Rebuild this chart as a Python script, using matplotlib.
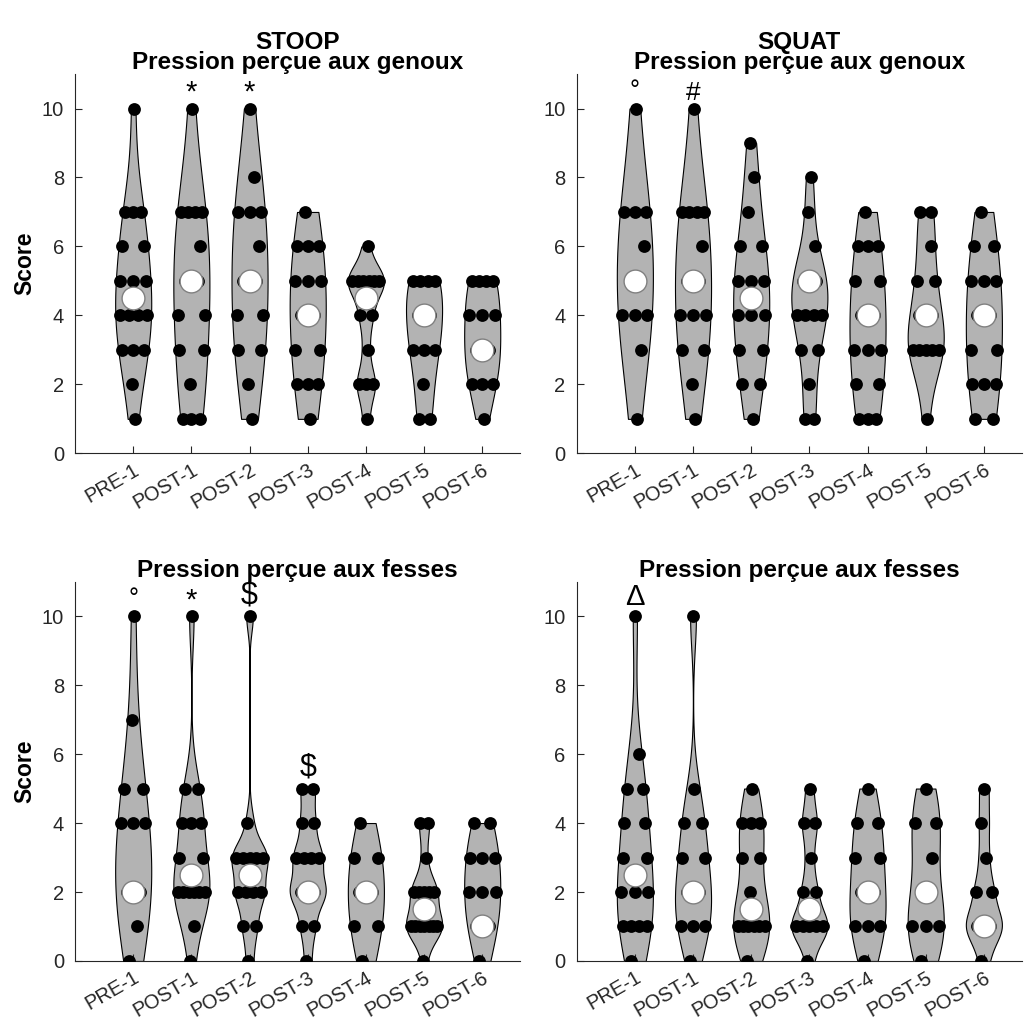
import numpy as np
import matplotlib
matplotlib.use('Agg')
import matplotlib.pyplot as plt
from matplotlib.mlab import GaussianKDE

plt.rcParams['font.family'] = ['Liberation Sans', 'DejaVu Sans']

labels = ['PRE-1', 'POST-1', 'POST-2', 'POST-3', 'POST-4', 'POST-5', 'POST-6']

# STOOP - genoux
stoop_knees = [
    [10, 7, 7, 7, 6, 6, 5, 5, 5, 4, 4, 4, 4, 3, 3, 3, 2, 1],
    [10, 7, 7, 7, 7, 6, 5, 5, 5, 4, 4, 3, 3, 2, 1, 1, 1],
    [10, 8, 7, 7, 7, 6, 5, 5, 4, 4, 3, 3, 2, 1],
    [7, 6, 6, 6, 5, 5, 5, 4, 4, 3, 3, 2, 2, 2, 1],
    [6, 5, 5, 5, 5, 5, 5, 4, 4, 3, 2, 2, 2, 1],
    [5, 5, 5, 5, 4, 4, 4, 3, 3, 3, 2, 1, 1],
    [5, 5, 5, 5, 4, 4, 4, 3, 3, 3, 3, 2, 2, 2, 1],
]
stoop_knees_med = [4.5, 5, 5, 4, 4.5, 4, 3]

# SQUAT - genoux
squat_knees = [
    [10, 7, 7, 7, 6, 5, 4, 4, 4, 3, 1],
    [10, 7, 7, 7, 7, 6, 5, 5, 4, 4, 4, 3, 3, 2, 1],
    [9, 8, 7, 6, 6, 5, 5, 5, 4, 4, 4, 3, 3, 2, 2, 1],
    [8, 7, 6, 5, 5, 5, 5, 5, 4, 4, 4, 4, 3, 3, 2, 1, 1],
    [7, 6, 6, 6, 5, 5, 4, 4, 4, 3, 3, 3, 2, 2, 1, 1, 1],
    [7, 7, 6, 5, 5, 4, 4, 3, 3, 3, 3, 3, 1],
    [7, 6, 6, 5, 5, 5, 4, 4, 3, 3, 2, 2, 2, 1, 1],
]
squat_knees_med = [5, 5, 4.5, 5, 4, 4, 4]

# STOOP - fesses
stoop_butt = [
    [10, 7, 5, 5, 4, 4, 4, 2, 2, 2, 2, 2, 2, 1, 0],
    [10, 5, 5, 4, 4, 4, 3, 3, 2, 2, 2, 2, 2, 2, 1, 0],
    [10, 4, 3, 3, 3, 3, 3, 2, 2, 2, 2, 1, 1, 0],
    [5, 5, 4, 4, 3, 3, 3, 3, 2, 2, 2, 2, 2, 1, 1, 0],
    [4, 3, 3, 2, 2, 1, 1, 0],
    [4, 4, 3, 2, 2, 2, 2, 2, 1, 1, 1, 1, 1, 1, 1, 0],
    [4, 4, 3, 3, 3, 2, 2, 2, 1, 1, 1, 0],
]
stoop_butt_med = [2, 2.5, 2.5, 2, 2, 1.5, 1]

# SQUAT - fesses
squat_butt = [
    [10, 6, 5, 5, 4, 4, 3, 3, 2, 2, 2, 1, 1, 1, 1, 0],
    [10, 5, 4, 4, 3, 3, 2, 2, 2, 1, 1, 1, 0],
    [5, 4, 4, 4, 3, 3, 2, 1, 1, 1, 1, 1, 1, 0],
    [5, 4, 4, 3, 2, 2, 1, 1, 1, 1, 1, 0],
    [5, 4, 4, 3, 3, 2, 2, 1, 1, 1, 0],
    [5, 4, 4, 3, 2, 1, 1, 1, 0],
    [5, 4, 3, 2, 2, 1, 1, 1, 1, 0],
]
squat_butt_med = [2.5, 2, 1.5, 1.5, 2, 2, 1]

# significance marks: (group index, symbol, y)
stoop_knees_marks = [(1, '*', 10.45), (2, '*', 10.45)]
squat_knees_marks = [(0, '°', 10.5), (1, '#', 10.45)]
stoop_butt_marks = [(0, '°', 10.5), (1, '*', 10.45), (2, '$', 10.6), (3, '$', 5.6)]
squat_butt_marks = [(0, 'Δ', 10.55)]


def silverman(kde):
    # ksdensity-like bandwidth (robust sigma)
    x = kde.dataset.ravel()
    sig = np.median(np.abs(x - np.median(x))) / 0.6745
    if sig <= 0:
        sig = x.max() - x.min()
    h = sig * (4 / (3 * len(x))) ** 0.2
    return h / np.std(x, ddof=1)


def draw_panel(ax, groups, medians, marks, title, ylabel):
    pos = np.arange(1, len(groups) + 1)
    parts = ax.violinplot(groups, positions=pos, widths=0.62, showextrema=False,
                          bw_method=silverman, points=100)
    for body in parts['bodies']:
        body.set_facecolor('#b3b3b3')
        body.set_edgecolor('black')
        body.set_linewidth(0.8)
        body.set_alpha(1)

    offs = [-0.55, 0.35, -0.15, 0.6, -0.8, 0.1, 0.75, -0.4, 0.5, -0.3, 0.2]
    for p, g, med in zip(pos, groups, medians):
        g = np.asarray(g, dtype=float)
        kde = GaussianKDE(g, silverman)
        grid = np.linspace(g.min(), g.max(), 100)
        dmax = kde.evaluate(grid).max()
        xs = []
        ys = []
        for v in np.unique(g):
            k = int((g == v).sum())
            hw = 0.31 * kde.evaluate(np.array([v]))[0] / dmax
            if v == med:
                # these sit mostly behind the median marker
                o = np.linspace(-1, 1, k) * 0.11 if k > 1 else np.array([0.0])
                xs.extend(p + o)
            else:
                if k == 1:
                    o = np.array([offs[int(v) % len(offs)] * 0.7])
                else:
                    o = np.linspace(-0.75, 0.75, k)
                xs.extend(p + o * hw)
            ys.extend([v] * k)
        ax.scatter(xs, ys, s=85, color='black', zorder=3, linewidths=0)

    ax.scatter(pos, medians, s=270, facecolor='white', edgecolor='#808080',
               linewidths=1.0, zorder=4)

    for gi, sym, y in marks:
        fs = {'*': 21, '°': 18, '#': 19, '$': 22, 'Δ': 21}[sym]
        ax.text(pos[gi], y, sym, ha='center', va='center', fontsize=fs,
                color='black')

    ax.set_xlim(0, 7.65)
    ax.set_ylim(0, 11)
    ax.set_yticks([0, 2, 4, 6, 8, 10])
    ax.set_xticks(pos)
    ax.set_xticklabels(labels, rotation=30, ha='right', rotation_mode='anchor')
    ax.tick_params(direction='in', length=5, labelsize=14.5, colors='#262626',
                   width=0.8)
    ax.tick_params(axis='y', pad=8)
    ax.tick_params(axis='x', pad=5)
    ax.spines['top'].set_visible(False)
    ax.spines['right'].set_visible(False)
    ax.spines['left'].set_color('#262626')
    ax.spines['bottom'].set_color('#262626')
    ax.set_title(title, fontsize=17.5, fontweight='bold', linespacing=0.85, pad=1)
    if ylabel:
        ax.set_ylabel('Score', fontsize=16.5, fontweight='bold', labelpad=4)


fig = plt.figure(figsize=(10.32, 10.28), dpi=100)
ax1 = fig.add_axes([0.0727, 0.559, 0.4312, 0.369])
ax2 = fig.add_axes([0.5588, 0.559, 0.4312, 0.369])
ax3 = fig.add_axes([0.0727, 0.0652, 0.4312, 0.369])
ax4 = fig.add_axes([0.5588, 0.0652, 0.4312, 0.369])

draw_panel(ax1, stoop_knees, stoop_knees_med, stoop_knees_marks,
           'STOOP\nPression perçue aux genoux', True)
draw_panel(ax2, squat_knees, squat_knees_med, squat_knees_marks,
           'SQUAT\nPression perçue aux genoux', False)
draw_panel(ax3, stoop_butt, stoop_butt_med, stoop_butt_marks,
           'Pression perçue aux fesses', True)
draw_panel(ax4, squat_butt, squat_butt_med, squat_butt_marks,
           'Pression perçue aux fesses', False)

fig.savefig('out.png', dpi=100)
